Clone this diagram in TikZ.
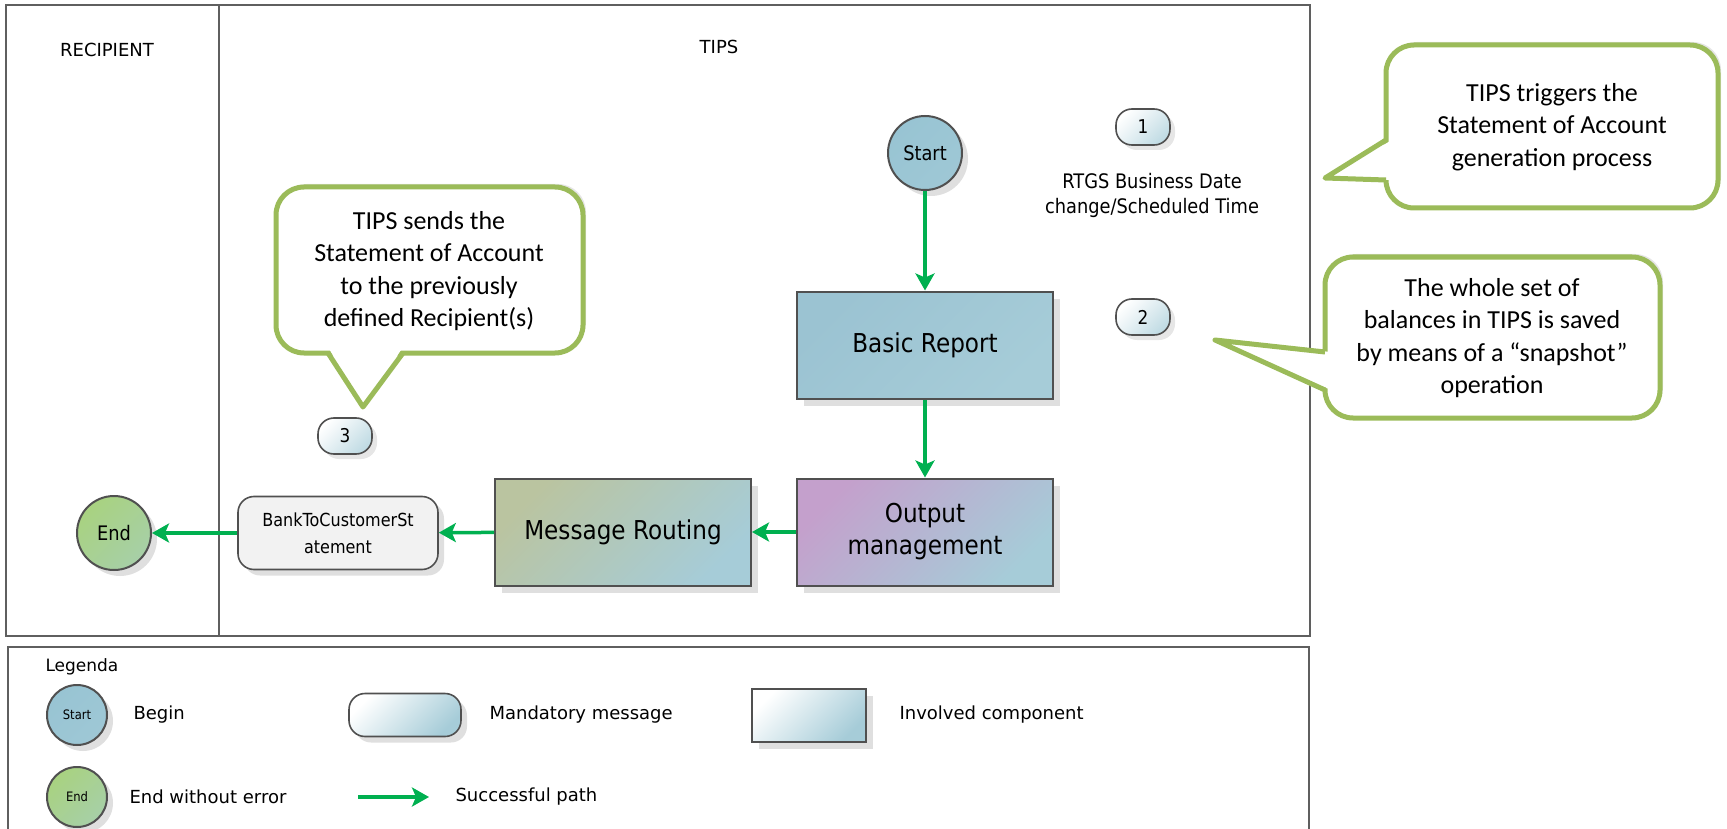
\documentclass[tikz,border=0pt]{standalone}
\usepackage{fontspec}
\setmainfont{DejaVu Sans}
\newfontfamily\narrowfont{DejaVu Sans}[FakeStretch=0.89]
\newfontfamily\notefont{Carlito}
\usetikzlibrary{shadows,arrows.meta}
\definecolor{edge}{RGB}{80,80,80}
\definecolor{framegray}{RGB}{95,95,95}
\definecolor{tipblue}{RGB}{166,204,216}
\definecolor{startblue}{RGB}{152,196,211}
\definecolor{basicblue}{RGB}{155,195,210}
\definecolor{outpurple}{RGB}{196,160,204}
\definecolor{routeolive}{RGB}{186,196,160}
\definecolor{endgreen}{RGB}{168,210,128}
\definecolor{msggray}{RGB}{242,242,242}
\definecolor{okgreen}{RGB}{0,176,80}
\definecolor{notegreen}{RGB}{155,187,89}
\tikzset{
    frame/.style = {
        draw = framegray,
        line width = 1.6pt
    },
    lane label/.style = {
        font = \fontsize{18}{22}\selectfont
    },
    legend text/.style = {
        anchor = west,
        font = \fontsize{18}{22}\selectfont
    },
    comp box/.style = {
        shape = rectangle,
        align = center,
        draw  = edge,
        line width = 2pt,
        top color = #1,
        bottom color = tipblue,
        shading angle = 45,
        minimum width = 256pt,
        minimum height = 107pt,
        font = \narrowfont\fontsize{26}{32}\selectfont,
        drop shadow = {shadow xshift=7pt, shadow yshift=-7pt, opacity=.25}
    },
    flow circle/.style = {
        shape = circle,
        align = center,
        draw  = edge,
        line width = 2pt,
        top color = #1,
        bottom color = #1!55!tipblue,
        shading angle = 45,
        inner sep = 0pt,
        minimum size = 74pt,
        font = \narrowfont\fontsize{20}{24}\selectfont,
        drop shadow = {shadow xshift=6pt, shadow yshift=-6pt, opacity=.25}
    },
    mini circle/.style = {
        minimum size = 60pt,
        font = \narrowfont\fontsize{13}{15}\selectfont
    },
    msg box/.style = {
        shape = rectangle,
        align = center,
        draw  = edge,
        line width = 1.6pt,
        rounded corners = 16pt,
        fill = msggray,
        minimum width = 200pt,
        minimum height = 73pt,
        font = \narrowfont\fontsize{18}{27}\selectfont,
        drop shadow = {shadow xshift=6pt, shadow yshift=-6pt, opacity=.25}
    },
    legend shade/.style = {
        top color = #1,
        bottom color = tipblue,
        shading angle = 45
    },
    num bubble/.style = {
        shape = rectangle,
        align = center,
        draw  = edge,
        line width = 1.6pt,
        rounded corners = 16pt,
        top color = white,
        bottom color = tipblue!70,
        shading angle = 45,
        minimum width = 54pt,
        minimum height = 36pt,
        font = \narrowfont\fontsize{19}{22}\selectfont,
        drop shadow = {shadow xshift=5pt, shadow yshift=-5pt, opacity=.2}
    },
    flow/.style = {
        draw = okgreen,
        line width = 3.5pt,
        ->
    },
    note/.style = {
        draw = notegreen,
        line width = 5pt,
        fill = white,
        rounded corners = 28pt,
        drop shadow = {shadow xshift=3pt, shadow yshift=3pt, opacity=.2}
    },
    note tail/.style = {
        draw = notegreen,
        line width = 5pt,
        line join = round
    },
    note text/.style = {
        align = center,
        font = \notefont\fontsize{26}{32.5}\selectfont
    }
}

\begin{document}
\begin{tikzpicture}[x=1pt, y=-1pt, nodes = {align = center}, >={Stealth[length=17pt,width=19pt,inset=4pt]}]
      \useasboundingbox (0,0) rectangle (1727,829);
      \draw[frame] (6,5) rectangle (1310,636);
      \draw[frame] (219,5) -- (219,636);
      \draw[frame] (8,647) rectangle (1309,860);
      \node (recipient) at (107,50) [lane label] {RECIPIENT};
      \node (tips) at (719,47) [lane label] {TIPS};

      \node (start) at (925,153) [flow circle = startblue] {Start};
      \node (basic) at (925,345) [comp box = basicblue] {Basic Report};
      \node (output) at (925,532) [comp box = outpurple] {Output\\management};
      \node (routing) at (623,532) [comp box = routeolive] {Message Routing};
      \node (bankmsg) at (338,533) [msg box] {BankToCustomerSt\\atement};
      \node (end) at (114,533) [flow circle = endgreen] {End};

      \draw[flow] (start) -- (basic);
      \draw[flow] (basic) -- (output);
      \draw[flow] (output) -- (routing);
      \draw[flow] (routing) -- (bankmsg);
      \draw[flow] (bankmsg) -- (end);

      \node (num1) at (1143,127) [num bubble] {1};
      \node (num2) at (1143,317) [num bubble] {2};
      \node (num3) at (345,436) [num bubble] {3};
      \node (rtgs) at (1152,195) [font = \narrowfont\fontsize{20}{25}\selectfont] {RTGS Business Date\\change/Scheduled Time};

      \draw[note] (1386,45) rectangle (1718,208);
      \fill[white] (1392,140) -- (1325,178) -- (1392,180) -- cycle;
      \draw[note tail] (1386,140) -- (1325,178) -- (1386,180);
      \node (note1) at (1552,127) [note text] {TIPS triggers the\\Statement of Account\\generation process};

      \draw[note] (1325,257) rectangle (1660,418);
      \fill[white] (1331,352) -- (1215,340) -- (1331,390) -- cycle;
      \draw[note tail] (1325,352) -- (1215,340) -- (1325,390);
      \node (note2) at (1492,338) [note text] {The whole set of\\balances in TIPS is saved\\by means of a “snapshot”\\operation};

      \draw[note] (276,187) rectangle (583,353);
      \fill[white] (328,347) -- (363,407) -- (403,347) -- cycle;
      \draw[note tail] (328,353) -- (363,407) -- (403,353);
      \node (note3) at (429,271) [note text] {TIPS sends the\\Statement of Account\\to the previously\\defined Recipient(s)};

      \node (legenda) at (42,667) [legend text, font = \fontsize{17}{20}\selectfont] {Legenda};
      \node (lstart) at (77,715) [flow circle = startblue, mini circle] {Start};
      \node (lbegin) at (130,715) [legend text] {Begin};
      \node (lmsg) at (405,715) [msg box, legend shade = white, minimum width = 112pt, minimum height = 43pt] {};
      \node (lmandatory) at (486,715) [legend text] {Mandatory message};
      \node (lcomp) at (809,715) [comp box = white, minimum width = 114pt, minimum height = 53pt] {};
      \node (linvolved) at (896,715) [legend text] {Involved component};
      \node (lend) at (77,797) [flow circle = endgreen, mini circle] {End};
      \node (lendtext) at (126,797) [legend text] {End without error};
      \coordinate (larrow a) at (358,797);
      \coordinate (larrow b) at (429,797);
      \draw[flow] (larrow a) -- (larrow b);
      \node (lpath) at (452,797) [legend text] {Successful path};
    \end{tikzpicture}
\end{document}
